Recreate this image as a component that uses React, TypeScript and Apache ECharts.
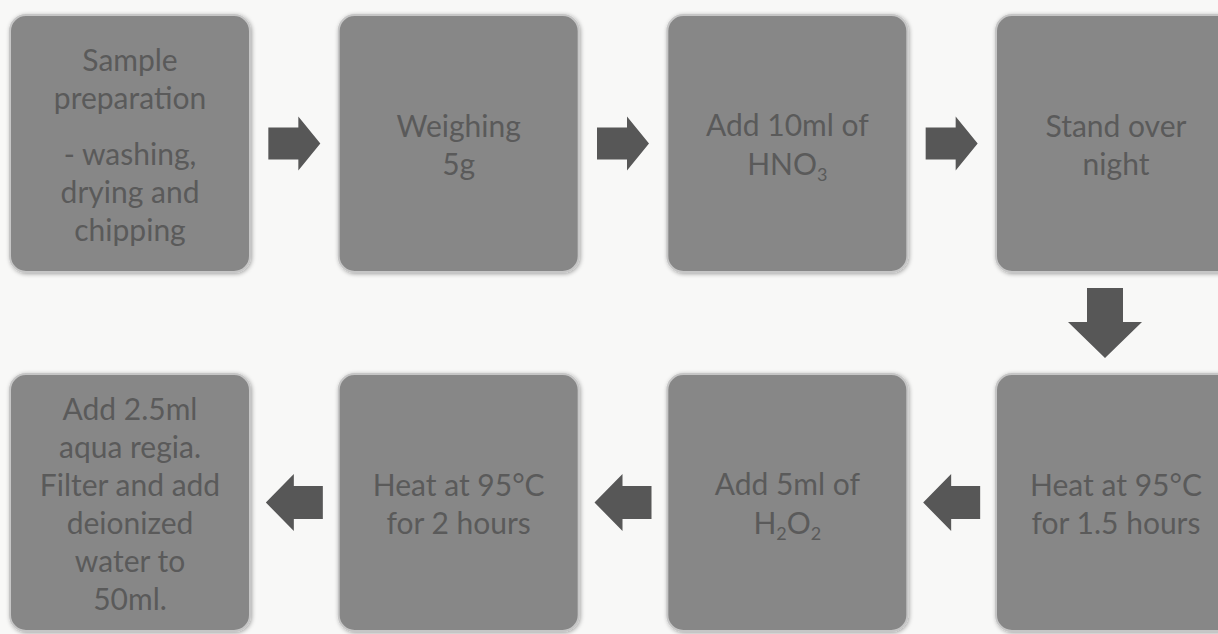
import React, { useEffect, useRef } from "react";
import * as echarts from "echarts";

// Each step: lines of text; "" marks a paragraph break; "_n" marks a subscript digit
const steps: string[][] = [
  ["Sample", "preparation", "", "- washing,", "drying and", "chipping"],
  ["Weighing", "5g"],
  ["Add 10ml of", "HNO_3"],
  ["Stand over", "night"],
  ["Heat at 95°C", "for 1.5 hours"],
  ["Add 5ml of", "H_2O_2"],
  ["Heat at 95°C", "for 2 hours"],
  ["Add 2.5ml", "aqua regia.", "Filter and add", "deionized", "water to", "50ml."],
];
const stepCol = [0, 1, 2, 3, 3, 2, 1, 0];
const stepRow = [0, 0, 0, 0, 1, 1, 1, 1];
const links: number[][] = [
  [0, 1],
  [1, 2],
  [2, 3],
  [3, 4],
  [4, 5],
  [5, 6],
  [6, 7],
];

const BOX_FILL = "#878787";
const TEXT_COLOR = "#5a5a5a";
const ARROW_COLOR = "#575757";
const FONT = "Lato, 'Noto Sans', sans-serif";

function toRich(lines: string[]): string {
  return lines
    .map((l) =>
      l === ""
        ? "{g| }"
        : ("{t|" + l.replace(/_(\d)/g, "}{s|$1}{t|") + "}").replace(/\{t\|\}/g, "")
    )
    .join("\n");
}

const rich = {
  t: { fill: TEXT_COLOR, fontSize: 30, lineHeight: 38, fontFamily: FONT },
  s: { fill: TEXT_COLOR, fontSize: 18, lineHeight: 40, fontFamily: FONT, verticalAlign: "bottom" },
  g: { fill: TEXT_COLOR, fontSize: 10, lineHeight: 18, fontFamily: FONT },
};

export default function App() {
  const ref = useRef<HTMLDivElement>(null);
  useEffect(() => {
    if (!ref.current) return;
    const chart = echarts.init(ref.current, null, { renderer: "svg" });
    const boxData = steps.map((_, i) => [stepCol[i], stepRow[i], i]);
    const arrowData = links.map(([a, b]) => [stepCol[a], stepRow[a], stepCol[b], stepRow[b]]);
    chart.setOption({
      animation: false,
      backgroundColor: "#f8f8f7",
      grid: { left: 130, right: 102, top: 143.5, bottom: 131.5 },
      xAxis: { type: "value", min: 0, max: 3, show: false },
      yAxis: { type: "value", min: 0, max: 1, inverse: true, show: false },
      series: [
        {
          type: "custom",
          name: "steps",
          data: boxData,
          encode: { x: 0, y: 1 },
          clip: false,
          renderItem: (params: any, api: any) => {
            const i = api.value(2);
            const c = api.coord([api.value(0), api.value(1)]);
            const w = 240;
            const h = 257;
            return {
              type: "group",
              children: [
                {
                  type: "rect",
                  shape: { x: c[0] - w / 2, y: c[1] - h / 2, width: w, height: h, r: 16 },
                  style: {
                    fill: BOX_FILL,
                    stroke: "#c6c6c6",
                    lineWidth: 2,
                    shadowBlur: 4,
                    shadowColor: "rgba(0,0,0,0.35)",
                    shadowOffsetX: 1,
                    shadowOffsetY: 1,
                  },
                },
                {
                  type: "text",
                  x: c[0],
                  y: c[1],
                  style: {
                    text: toRich(steps[i]),
                    rich,
                    align: "center",
                    verticalAlign: "middle",
                    fill: TEXT_COLOR,
                    fontFamily: FONT,
                    fontSize: 30,
                  },
                },
              ],
            };
          },
        },
        {
          type: "custom",
          name: "arrows",
          data: arrowData,
          encode: { x: [0, 2], y: [1, 3] },
          clip: false,
          renderItem: (params: any, api: any) => {
            const p1 = api.coord([api.value(0), api.value(1)]);
            const p2 = api.coord([api.value(2), api.value(3)]);
            let mx = (p1[0] + p2[0]) / 2;
            let my = (p1[1] + p2[1]) / 2;
            const dx = p2[0] - p1[0];
            const dy = p2[1] - p1[1];
            const len = Math.sqrt(dx * dx + dy * dy);
            const ux = dx / len;
            const uy = dy / len;
            const vx = -uy;
            const vy = ux;
            let L = 52, sw = 32, hw = 54, hl = 22;
            if (Math.abs(uy) > 0.5) {
              L = 70; sw = 36; hw = 74; hl = 36;
              mx -= 11;
            } else if (ux < 0) {
              L = 57; sw = 33; hw = 57; hl = 28;
            }
            const pt = (a: number, b: number) => [mx + ux * a + vx * b, my + uy * a + vy * b];
            const points = [
              pt(-L / 2, -sw / 2),
              pt(L / 2 - hl, -sw / 2),
              pt(L / 2 - hl, -hw / 2),
              pt(L / 2, 0),
              pt(L / 2 - hl, hw / 2),
              pt(L / 2 - hl, sw / 2),
              pt(-L / 2, sw / 2),
            ];
            return {
              type: "polygon",
              shape: { points },
              style: { fill: ARROW_COLOR },
            };
          },
        },
      ],
    });
    return () => chart.dispose();
  }, []);
  return (
    <div
      ref={ref}
      style={{ position: "fixed", left: 0, top: 0, width: 1218, height: 634 }}
    />
  );
}
